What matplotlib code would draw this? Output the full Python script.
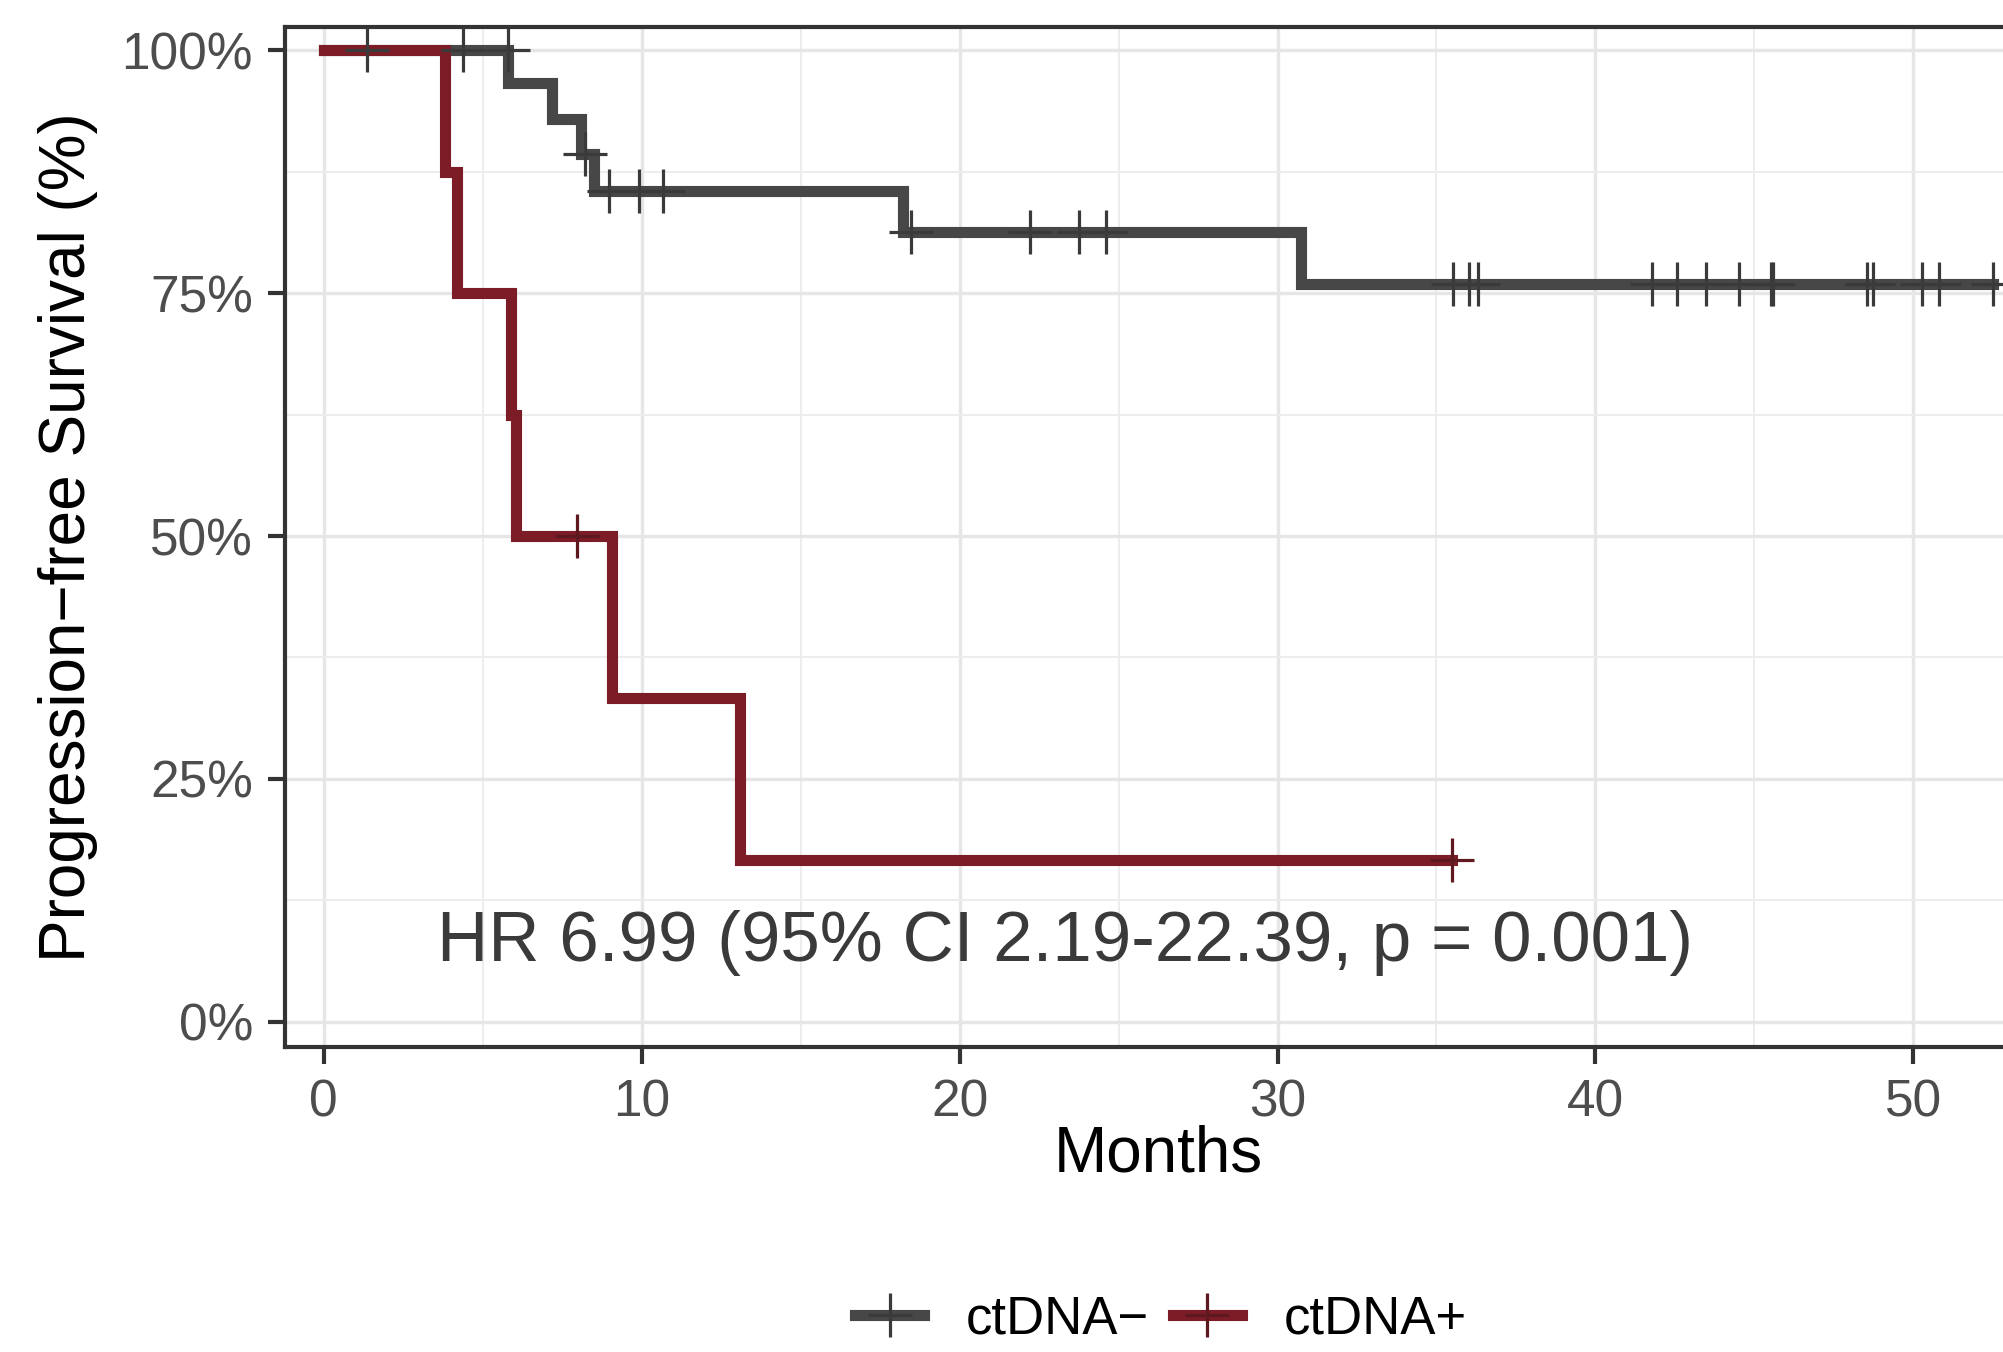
import matplotlib
matplotlib.use("Agg")
import matplotlib.pyplot as plt
from matplotlib import font_manager
from matplotlib.lines import Line2D
from matplotlib.ticker import FuncFormatter, MultipleLocator

# ctDNA- : Kaplan-Meier steps (months, % progression-free)
neg_times = [0, 5.80, 7.18, 8.09, 8.51, 18.22, 30.73, 52.49]
neg_surv = [100, 96.6, 92.9, 89.3, 85.5, 81.3, 75.9, 75.9]
neg_censored = [1.37, 4.39, 5.79, 8.22, 8.97, 9.92, 10.66, 18.47, 22.21,
                23.77, 24.62, 35.51, 36.03, 36.31, 41.78, 42.55, 43.48,
                44.53, 45.53, 45.59, 48.53, 48.74, 50.27, 50.80, 52.49]

# ctDNA+ : Kaplan-Meier steps
pos_times = [0, 3.82, 4.18, 5.89, 6.05, 9.07, 13.08, 35.50]
pos_surv = [100, 87.5, 75.0, 62.5, 50.0, 33.3, 16.7, 16.7]
pos_censored = [7.97, 35.50]

group_labels = ["ctDNA\u2212", "ctDNA+"]
group_colors = ["#474747", "#7B1C27"]
mark_colors = ["#3a3a3a", "#5e1820"]
hr_text = "HR 6.99 (95% CI 2.19-22.39, p = 0.001)"


def level_at(times, surv, t):
    # survival value of the step curve at time t (right-continuous)
    val = surv[0]
    for ti, si in zip(times, surv):
        if ti < t:
            val = si
    return val


plt.rcParams['font.family'] = ['Liberation Sans', 'DejaVu Sans']
installed = {f.name for f in font_manager.fontManager.ttflist}
if 'Liberation Sans Narrow' in installed:
    hr_family, hr_size = ['Liberation Sans Narrow', 'Liberation Sans'], 63
else:
    hr_family, hr_size = ['Liberation Sans', 'DejaVu Sans'], 51

W, H = 2003, 1352
fig = plt.figure(figsize=(W / 100, H / 100), dpi=100)
left, right, top, bottom = 285, 2031, 27, 1047
ax = fig.add_axes([left / W, 1 - bottom / H, (right - left) / W, (bottom - top) / H])

lw = 8
curves = [(neg_times, neg_surv, neg_censored), (pos_times, pos_surv, pos_censored)]
for (t, s, c), col in zip(curves, group_colors):
    ax.step(t, s, where='post', color=col, lw=lw, solid_joinstyle='miter', zorder=3)
for (t, s, c), col in zip(curves, mark_colors):
    cy = [level_at(t, s, ci) for ci in c]
    ax.plot(c, cy, ls='none', marker='+', ms=31, mew=2.3, color=col, zorder=4)

ax.text(23.3, 6.3, hr_text, ha='center', va='baseline', fontsize=hr_size,
        family=hr_family, color='#3a3a3a', zorder=5)

ax.set_xlim(-1.22, 53.7)
ax.set_ylim(-2.6, 102.4)
ax.xaxis.set_major_locator(MultipleLocator(10))
ax.xaxis.set_minor_locator(MultipleLocator(5))
ax.yaxis.set_major_locator(MultipleLocator(25))
ax.yaxis.set_minor_locator(MultipleLocator(12.5))
ax.yaxis.set_major_formatter(FuncFormatter(lambda v, p: f"{v:.0f}%"))

ax.grid(which='major', color='#E6E6E6', lw=2.4, zorder=0)
ax.grid(which='minor', color='#EDEDED', lw=1.4, zorder=0)
ax.set_axisbelow(True)
ax.tick_params(which='major', length=12, width=3, color='#333333',
               labelsize=37, labelcolor='#4D4D4D', pad=11)
ax.tick_params(which='minor', length=0)
for sp in ax.spines.values():
    sp.set_color('#333333')
    sp.set_linewidth(3)

ax.set_xlabel("Months", fontsize=46, color='black')
ax.set_ylabel("Progression\u2212free Survival (%)", fontsize=46, color='black')
ax.xaxis.set_label_coords(0.5, -0.076)
ax.yaxis.set_label_coords(-0.107, 0.5)

handles = [Line2D([], [], color=c, lw=lw, marker='+', ms=31, mew=2.3,
                  markeredgecolor=m) for c, m in zip(group_colors, mark_colors)]
fig.legend(handles, group_labels, loc='center', bbox_to_anchor=(0.5797, 0.024),
           ncol=2, frameon=False, fontsize=38, handlelength=1.3,
           handletextpad=0.8, columnspacing=0.45)

fig.savefig("out.png", dpi=100)
